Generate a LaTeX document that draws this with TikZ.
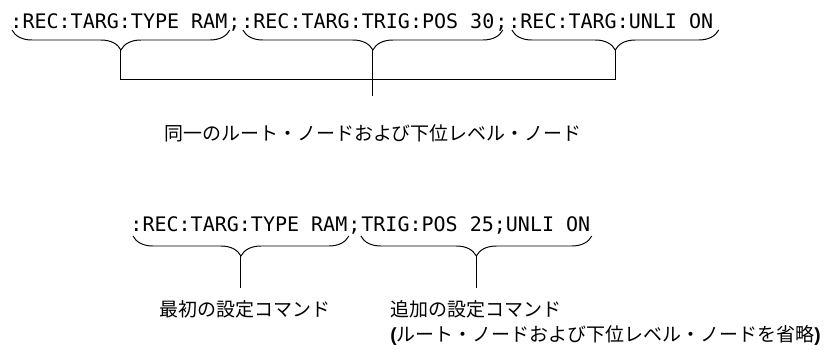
\documentclass[tikz,border=0pt]{standalone}
\usepackage{fontspec}
\usetikzlibrary{positioning,calc,decorations.pathreplacing}
\newfontfamily\cmdfont{DejaVu Sans Mono}
\newfontfamily\jpfont{Noto Sans CJK JP}
\newfontfamily\parfont{Liberation Sans}

\begin{document}
\begin{tikzpicture}[
  x=0.025cm,y=-0.025cm,line width=0.7pt,
  cmd/.style={inner sep=0pt,font=\cmdfont\fontsize{14.23}{17}\selectfont},
  lbl/.style={inner sep=0pt,align=left,font=\jpfont\fontsize{13.5}{17.8}\selectfont},
  brc/.style={decorate,decoration={brace,mirror,amplitude=0.5cm}}
]
\useasboundingbox (0,0) rectangle (828,349);

\node[cmd,anchor=base west] (c1) at (10,28) {:REC:TARG:TYPE RAM};
\node[cmd,base right=0pt of c1] (s1) {;};
\node[cmd,base right=0pt of s1] (c2) {:REC:TARG:TRIG:POS 30};
\node[cmd,base right=0pt of c2] (s2) {;};
\node[cmd,base right=0pt of s2] (c3) {:REC:TARG:UNLI ON};
\node[lbl] (j1) at (373,133) {同一のルート・ノードおよび下位レベル・ノード};

\draw[brc] ($(c1.base west)+(2,2)$) -- ($(c1.base east)+(2,2)$) coordinate[midway,below=0.5cm] (t1);
\draw[brc] ($(c2.base west)+(2,2)$) -- ($(c2.base east)+(8,2)$) coordinate[midway,below=0.5cm] (t2);
\draw[brc] ($(c3.base west)+(4,2)$) -- ($(c3.base east)+(5,2)$) coordinate[midway,below=0.5cm] (t3);
\draw (t1) -- ++(0,29) -| (t3);
\draw[shorten >=0.7cm] (t2) -- (t2 |- j1.north);

\node[cmd,anchor=base west] (c4) at (130,231) {:REC:TARG:TYPE RAM};
\node[cmd,base right=0pt of c4] (s3) {;};
\node[cmd,base right=0pt of s3] (c5) {TRIG:POS 25;UNLI ON};
\node[lbl] (j2) at (245,309) {最初の設定コマンド};
\node[lbl,anchor=north west] (j3) at (390,299.5)
  {追加の設定コマンド\\{\parfont\bfseries(}ルート・ノードおよび下位レベル・ノードを省略{\parfont\bfseries)}};

\draw[brc] ($(c4.base west)+(3,5)$) -- ($(c4.base east)+(1,5)$) coordinate[midway,below=0.5cm] (t4);
\draw[brc] ($(c5.base west)+(0,5)$) -- ($(c5.base east)+(1,5)$) coordinate[midway,below=0.5cm] (t5);
\draw[shorten >=0.29cm] (t4) -- (t4 |- j2.north);
\draw[shorten >=0.29cm] (t5) -- (t5 |- j3.north);
\end{tikzpicture}
\end{document}
